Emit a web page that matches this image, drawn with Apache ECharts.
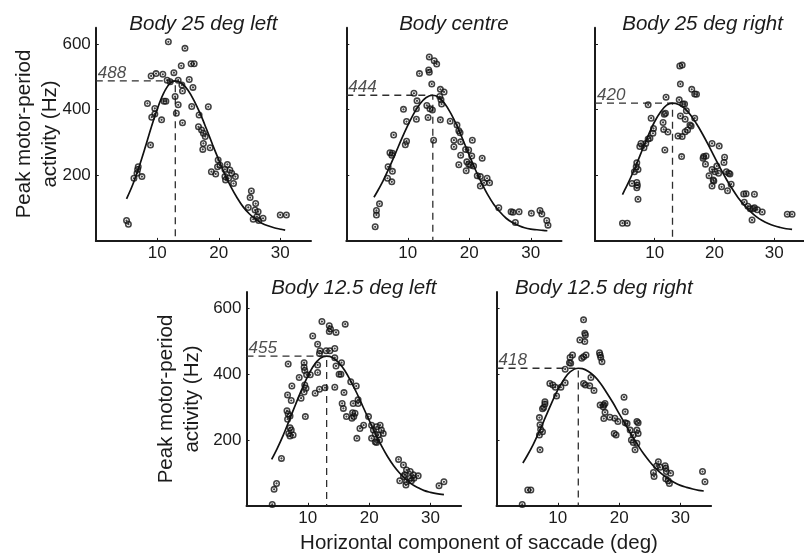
<!DOCTYPE html>
<html>
<head>
<meta charset="utf-8">
<script src="https://cdn.jsdelivr.net/npm/echarts@6/dist/echarts.min.js"></script>
<style>
  html, body { margin: 0; padding: 0; background: #fff; }
  #chart { width: 804px; height: 554px; }
</style>
</head>
<body>
<div id="chart"></div>
<script>
// Peak motor-period activity vs. horizontal saccade component, five body positions.
const panelTitles = ['Body 25 deg left', 'Body centre', 'Body 25 deg right', 'Body 12.5 deg left', 'Body 12.5 deg right'];
const peakRates = [488, 444, 420, 455, 418];          // Hz, at the top of each fitted curve
const peakSaccades = [12.93, 14.07, 12.98, 13.07, 13.34]; // deg, where each curve peaks
const xTickValues = [10, 20, 30];
const yTickValues = [200, 400, 600];

// Recorded cells: [saccade deg, peak rate Hz]
const pointsLeft25 = [[11.8,607],[14.5,587],[15.5,540],[16.0,540],[13.9,534],[12.7,513],[9.8,510],[9.0,503],[10.9,508],[11.6,490],[12.1,485],[13.4,490],[15.2,492],[14.0,475],[15.8,468],[14.1,457],[12.9,440],[8.4,419],[9.6,404],[11.1,426],[11.4,426],[13.4,415],[15.6,410],[18.3,409],[9.1,377],[9.6,387],[10.7,369],[13.1,389],[14.1,360],[16.8,384],[8.9,292],[16.7,348],[17.2,338],[17.5,328],[17.8,318],[18.6,284],[17.4,279],[17.5,297],[19.9,247],[20.2,231],[19.8,226],[21.4,233],[21.0,218],[21.8,216],[18.8,211],[19.5,204],[21.0,196],[21.6,191],[21.1,186],[22.1,206],[22.7,196],[22.4,175],[6.9,226],[6.8,218],[6.7,206],[7.5,196],[6.2,191],[25.3,152],[25.1,132],[26.0,114],[24.8,102],[25.9,94],[26.4,89],[26.2,74],[25.6,66],[27.2,69],[26.5,62],[5.0,62],[5.3,51],[30.0,79],[31.0,79]];
const pointsCentre = [[13.5,561],[14.3,549],[14.7,539],[13.4,521],[13.5,514],[11.9,510],[13.9,478],[15.3,462],[15.9,454],[11.0,450],[15.2,440],[15.4,430],[15.5,417],[11.5,427],[13.1,413],[13.6,403],[11.4,403],[14.0,399],[13.3,376],[9.3,401],[9.8,364],[11.4,371],[15.3,369],[16.9,365],[18.0,353],[18.3,336],[18.5,330],[17.5,307],[17.5,287],[18.6,302],[20.5,307],[19.4,279],[19.9,277],[18.6,261],[20.4,259],[22.1,252],[19.6,241],[20.2,231],[19.9,234],[18.3,232],[20.7,228],[19.5,214],[21.3,199],[21.8,196],[22.9,191],[22.4,177],[23.3,177],[21.8,167],[14.2,307],[7.7,323],[9.8,304],[9.6,293],[7.1,269],[7.5,267],[7.4,261],[6.8,226],[7.5,212],[6.7,191],[7.4,180],[5.4,113],[4.9,93],[4.9,79],[4.7,43],[24.8,101],[26.8,89],[27.1,87],[28.1,89],[27.5,56],[30.1,84],[31.5,93],[31.8,82],[32.6,62],[32.8,48]];
const pointsRight25 = [[14.2,533],[14.6,536],[14.3,478],[16.2,462],[16.7,448],[17.0,447],[11.9,438],[14.1,430],[14.7,417],[15.0,417],[8.9,415],[11.8,389],[11.6,386],[15.3,397],[14.3,381],[15.1,371],[16.7,374],[9.4,374],[11.4,361],[15.9,353],[16.1,350],[15.5,338],[15.1,333],[11.5,340],[12.2,332],[13.9,320],[14.6,318],[9.8,343],[9.7,328],[9.2,313],[8.9,311],[8.5,297],[7.7,297],[7.5,288],[8.2,284],[11.7,277],[14.5,257],[19.6,297],[20.8,289],[18.2,257],[18.6,259],[18.1,252],[18.5,234],[21.7,255],[21.6,239],[20.4,228],[19.6,218],[19.1,199],[20.1,211],[20.7,206],[19.8,186],[19.6,167],[19.9,183],[22.0,211],[22.4,206],[22.6,204],[22.8,173],[21.2,165],[22.2,153],[7.0,238],[6.9,226],[7.2,218],[6.6,211],[6.2,175],[7.0,178],[7.1,170],[7.0,162],[7.2,127],[25.3,144],[24.9,143],[26.7,142],[25.0,118],[25.6,106],[26.0,98],[26.5,98],[26.7,101],[27.2,95],[28.0,88],[26.3,64],[4.6,54],[5.4,54],[32.2,81],[33.0,81]];
const pointsLeft12 = [[12.3,560],[13.5,547],[13.7,537],[13.5,530],[14.6,527],[16.1,552],[10.8,516],[11.6,491],[12.0,471],[11.9,463],[13.0,471],[13.6,471],[14.4,478],[14.4,450],[15.5,435],[14.6,425],[15.1,400],[15.4,400],[6.8,431],[9.4,435],[9.4,421],[9.5,411],[11.6,428],[11.6,405],[9.8,398],[10.4,398],[8.6,390],[7.4,364],[9.5,367],[9.7,357],[9.4,346],[8.9,327],[6.7,337],[7.3,320],[12.8,359],[11.9,354],[11.2,342],[14.4,360],[15.9,344],[17.0,377],[17.9,364],[18.2,322],[17.4,311],[18.2,311],[15.6,311],[15.8,296],[17.3,283],[16.3,271],[17.7,281],[17.5,271],[17.2,266],[19.9,271],[6.6,289],[6.8,279],[7.1,273],[6.7,263],[9.6,271],[19.1,245],[18.5,235],[18.0,205],[7.1,237],[7.3,230],[6.9,220],[7.6,215],[7.1,212],[20.4,245],[21.2,240],[21.8,245],[22.0,230],[20.7,230],[21.0,218],[21.5,215],[22.3,220],[20.4,205],[21.0,195],[21.7,200],[21.2,192],[5.7,144],[24.8,141],[25.6,124],[26.1,109],[26.7,104],[25.8,94],[27.2,94],[28.0,91],[25.6,89],[26.7,84],[25.0,76],[26.1,73],[27.3,84],[26.9,76],[26.0,63],[4.9,68],[4.5,50],[4.2,4],[31.4,61],[32.2,73]];
const pointsRight12 = [[14.2,565],[14.4,524],[14.5,519],[13.6,504],[14.4,499],[13.9,448],[14.2,453],[14.6,458],[16.8,465],[16.9,458],[17.0,451],[17.2,438],[12.4,458],[12.0,451],[11.9,435],[11.2,415],[12.1,433],[14.2,372],[14.5,367],[15.2,365],[15.9,350],[15.4,390],[8.7,372],[9.2,367],[9.6,360],[10.5,360],[11.2,374],[9.8,334],[7.9,316],[7.9,309],[7.7,299],[7.5,295],[7.0,268],[7.1,246],[7.2,232],[7.5,225],[7.0,215],[7.1,170],[16.9,306],[17.5,306],[17.7,311],[17.4,301],[17.7,284],[17.5,265],[18.5,269],[19.3,266],[19.8,256],[20.8,330],[21.0,286],[21.0,252],[21.3,250],[22.9,256],[23.1,252],[21.8,230],[22.9,230],[22.3,215],[23.1,220],[19.2,220],[19.5,215],[22.0,200],[22.9,190],[22.3,192],[22.6,170],[26.4,134],[26.1,121],[26.7,117],[27.5,122],[27.6,114],[27.7,104],[28.4,99],[27.6,82],[28.0,76],[28.2,68],[25.6,101],[25.7,89],[5.1,48],[5.6,48],[4.2,4],[33.6,104],[34.0,73]];

// Fitted tuning curves: [saccade deg, rate Hz]
const curveLeft25 = [[5.0,128],[6,171],[7,224],[8,283],[9,345],[10,402],[11,449],[12,479],[12.93,488],[14,480],[15,459],[16,427],[17,387],[18,341],[19,293],[20,247],[21,203],[22,164],[23,131],[24,103],[25,82],[26,66],[27,54],[28,46],[29,40],[30,36],[30.8,33]];
const curveCentre = [[4.5,133],[5,149],[6,184],[7,224],[8,267],[9,311],[10,352],[11,389],[12,418],[13,437],[14.07,444],[15,438],[16,419],[17,389],[18,351],[19,307],[20,261],[21,217],[22,177],[23,141],[24,111],[25,88],[26,69],[27,56],[28,47],[29,40],[30,36],[31,34],[32,32],[32.7,31]];
const curveRight25 = [[4.6,141],[5,156],[6,194],[7,236],[8,281],[9,325],[10,364],[11,394],[12,414],[12.98,420],[14,416],[15,404],[16,384],[17,357],[18,326],[19,292],[20,256],[21,221],[22,188],[23,158],[24,131],[25,109],[26,90],[27,74],[28,62],[29,53],[30,46],[31,41],[32,37],[33,35]];
const curveLeft12 = [[4.1,141],[5,174],[6,215],[7,261],[8,308],[9,353],[10,394],[11,427],[12,448],[13.07,455],[14,451],[15,436],[16,412],[17,379],[18,342],[19,301],[20,260],[21,220],[22,183],[23,150],[24,122],[25,99],[26,80],[27,65],[28,55],[29,46],[30,41],[31,37],[32.2,34]];
const curveRight12 = [[4.3,130],[5,152],[6,187],[7,227],[8,270],[9,313],[10,352],[11,384],[12,407],[13.34,418],[14,417],[15,408],[16,393],[17,371],[18,343],[19,313],[20,280],[21,248],[22,216],[23,186],[24,158],[25,134],[26,113],[27,96],[28,82],[29,71],[30,62],[31,56],[32,51],[33,47],[33.8,45]];

const panelPoints = [pointsLeft25, pointsCentre, pointsRight25, pointsLeft12, pointsRight12];
const panelCurves = [curveLeft25, curveCentre, curveRight25, curveLeft12, curveRight12];

const FONT = '"Liberation Sans", Arial, Helvetica, sans-serif';
const INK = '#1b1b1b';

// plot frames (pixels); the right-hand top panel runs off the page edge
const frames = [
  { left: 95.8,  top: 27.7,  width: 215.2, height: 213.2, yLabels: true  },
  { left: 346.3, top: 27.7,  width: 215.2, height: 213.2, yLabels: false },
  { left: 595.0, top: 27.7,  width: 215.2, height: 213.2, yLabels: false },
  { left: 246.5, top: 291.9, width: 214.6, height: 213.9, yLabels: true  },
  { left: 496.5, top: 291.9, width: 214.6, height: 213.9, yLabels: false }
];

// open ring with a centre dot, as used for each recorded cell
const ringSymbol = 'path://M0,10A10,10,0,1,1,20,10A10,10,0,1,1,0,10ZM4.4,10A5.6,5.6,0,1,0,15.6,10A5.6,5.6,0,1,0,4.4,10ZM6.8,10A3.2,3.2,0,1,1,13.2,10A3.2,3.2,0,1,1,6.8,10Z';

const grids = [], xAxes = [], yAxes = [], series = [], titles = [];

frames.forEach((f, i) => {
  grids.push({ left: f.left, top: f.top, width: f.width, height: f.height, containLabel: false });

  xAxes.push({
    gridIndex: i, type: 'value', min: 0, max: 35,
    axisLine: { show: true, onZero: false, lineStyle: { color: INK, width: 2 } },
    axisTick: { show: true, inside: true, length: 3, customValues: xTickValues, lineStyle: { color: INK, width: 1 } },
    axisLabel: { show: true, customValues: xTickValues, margin: 4, fontSize: 17, color: INK, fontFamily: FONT },
    splitLine: { show: false }
  });

  yAxes.push({
    gridIndex: i, type: 'value', min: 0, max: 650,
    axisLine: { show: true, onZero: false, lineStyle: { color: INK, width: 2 } },
    axisTick: { show: true, inside: true, length: 3, customValues: yTickValues, lineStyle: { color: INK, width: 1 } },
    axisLabel: { show: f.yLabels, customValues: yTickValues, margin: 5, fontSize: 17, color: INK, fontFamily: FONT },
    splitLine: { show: false }
  });

  titles.push({
    text: panelTitles[i],
    left: f.left + f.width / 2,
    top: f.top - 13.5,
    textAlign: 'center',
    padding: 0,
    textStyle: { fontSize: 20.5, fontStyle: 'italic', fontWeight: 'normal', color: INK, fontFamily: FONT }
  });

  const peak = peakRates[i], at = peakSaccades[i];

  // dashed guides from the axes to the curve's peak
  series.push({
    type: 'line', xAxisIndex: i, yAxisIndex: i, silent: true, z: 1,
    symbol: 'none', animation: false,
    data: [[0, peak], [at, peak], [at, 0]],
    lineStyle: { color: '#2e2e2e', width: 1.3, type: [7, 5] }
  });

  series.push({
    type: 'scatter', xAxisIndex: i, yAxisIndex: i, silent: true, z: 3,
    symbol: ringSymbol, symbolSize: 7,
    itemStyle: { color: '#111' },
    data: panelPoints[i]
  });

  series.push({
    type: 'line', xAxisIndex: i, yAxisIndex: i, silent: true, z: 4,
    symbol: 'none', smooth: 0.35,
    data: panelCurves[i],
    lineStyle: { color: '#111', width: 1.7 }
  });

  // peak value written on the horizontal guide
  series.push({
    type: 'scatter', xAxisIndex: i, yAxisIndex: i, silent: true, z: 5,
    symbol: 'circle', symbolSize: 1,
    itemStyle: { color: 'rgba(0,0,0,0)' },
    data: [[0, peak]],
    label: {
      show: true, position: 'top', align: 'left', distance: 0, offset: [2, 1],
      formatter: String(peak),
      fontSize: 17, fontStyle: 'italic', color: '#222', fontFamily: FONT
    }
  });
});

const chart = echarts.init(document.getElementById('chart'), null, { renderer: 'canvas' });
chart.setOption({
  animation: false,
  backgroundColor: '#fff',
  title: titles,
  grid: grids,
  xAxis: xAxes,
  yAxis: yAxes,
  series: series,
  graphic: [
    {
      type: 'text', x: 37, y: 134, rotation: Math.PI / 2,
      style: { text: 'Peak motor-period\nactivity (Hz)', font: '20.5px ' + FONT, fill: INK,
               textAlign: 'center', textVerticalAlign: 'middle', lineHeight: 26 }
    },
    {
      type: 'text', x: 179, y: 399, rotation: Math.PI / 2,
      style: { text: 'Peak motor-period\nactivity (Hz)', font: '20.5px ' + FONT, fill: INK,
               textAlign: 'center', textVerticalAlign: 'middle', lineHeight: 26 }
    },
    {
      type: 'text', x: 479, y: 543,
      style: { text: 'Horizontal component of saccade (deg)', font: '20.5px ' + FONT, fill: INK,
               textAlign: 'center', textVerticalAlign: 'middle' }
    }
  ]
});
</script>
</body>
</html>
